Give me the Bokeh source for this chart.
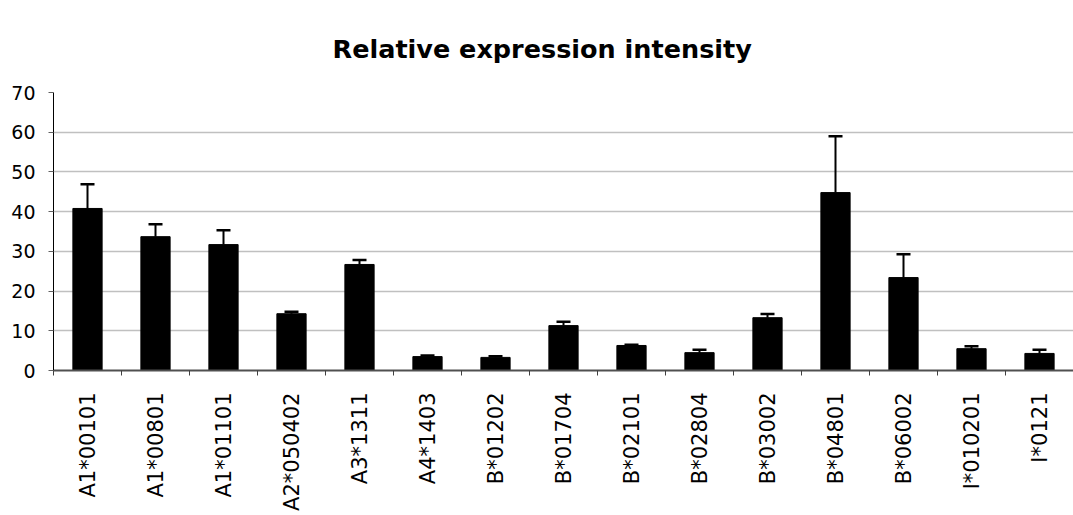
import math
from bokeh.plotting import figure
from bokeh.models import (ColumnDataSource, Range1d, FixedTicker, Whisker, TeeHead, Grid)
from bokeh.embed import file_html
from bokeh.resources import INLINE

categories = ["A1*00101", "A1*00801", "A1*01101", "A2*050402", "A3*1311",
              "A4*1403", "B*01202", "B*01704", "B*02101", "B*02804",
              "B*03002", "B*04801", "B*06002", "I*010201", "I*0121"]
values = [40.8, 33.7, 31.7, 14.3, 26.7, 3.5, 3.3, 11.3, 6.3, 4.5,
          13.3, 44.8, 23.4, 5.5, 4.3]
errors = [6.1, 3.1, 3.6, 0.5, 1.1, 0.3, 0.3, 1.0, 0.2, 0.7,
          0.9, 14.2, 5.9, 0.6, 0.9]
y_ticks = [0, 10, 20, 30, 40, 50, 60, 70]
title_text = "Relative expression intensity"

n = len(categories)
centers = [i + 0.5 for i in range(n)]
bounds = [float(i) for i in range(n + 1)]
tops = [v + e for v, e in zip(values, errors)]

src = ColumnDataSource(dict(x=centers, v=values, top=tops))

p = figure(width=1073, height=515, output_backend="svg", toolbar_location=None,
           x_range=Range1d(0, n), y_range=Range1d(y_ticks[0], y_ticks[-1]),
           min_border_left=53, min_border_right=0, min_border_top=92,
           min_border_bottom=145)
p.outline_line_color = None
p.background_fill_color = "white"
p.border_fill_color = "white"

p.title.text = title_text
p.title.align = "left"
p.title.text_font = "DejaVu Sans"
p.title.text_font_style = "bold"
p.title.text_font_size = "25.5px"
p.title.text_color = "black"
p.title.offset = 279
p.title.standoff = 57

# grid
p.xgrid.visible = False
p.ygrid.ticker = FixedTicker(ticks=y_ticks[:-1])
p.ygrid.grid_line_color = "#c0c0c0"
p.ygrid.grid_line_width = 1.5
top_grid = Grid(dimension=1, ticker=FixedTicker(ticks=[y_ticks[-1]]),
                grid_line_color="#808080", grid_line_width=2)
p.add_layout(top_grid)

p.vbar(x="x", top="v", bottom=0, width=0.43, source=src,
       fill_color="black", line_color="black")

w = Whisker(base="x", lower="v", upper="top", source=src, dimension="height",
            line_color="black", line_width=2,
            upper_head=TeeHead(size=14, line_color="black", line_width=2.5),
            lower_head=None)
p.add_layout(w)

# y axis
p.yaxis.ticker = FixedTicker(ticks=y_ticks)
p.yaxis.axis_line_color = "black"
p.yaxis.axis_line_width = 1
p.yaxis.major_tick_line_color = "#606060"
p.yaxis.major_tick_out = 5
p.yaxis.major_tick_in = 0
p.yaxis.minor_tick_line_color = None
p.yaxis.major_label_text_font = "DejaVu Sans"
p.yaxis.major_label_text_font_size = "19px"
p.yaxis.major_label_text_color = "black"
p.yaxis.major_label_standoff = 13

# x axis
p.xaxis.ticker = FixedTicker(ticks=centers, minor_ticks=bounds)
p.xaxis.major_label_overrides = {c: name for c, name in zip(centers, categories)}
p.xaxis.major_label_orientation = math.pi / 2
p.xaxis.major_tick_line_color = None
p.xaxis.major_tick_out = 5
p.xaxis.minor_tick_line_color = "#404040"
p.xaxis.minor_tick_out = 5
p.xaxis.minor_tick_in = 0
p.xaxis.minor_tick_line_width = 1
p.xaxis.axis_line_color = "#505050"
p.xaxis.axis_line_width = 2
p.xaxis.major_label_text_font = "DejaVu Sans"
p.xaxis.major_label_text_font_size = "21px"
p.xaxis.major_label_text_color = "black"
p.xaxis.major_label_standoff = 17

open("out.html", "w").write(file_html(p, INLINE))
